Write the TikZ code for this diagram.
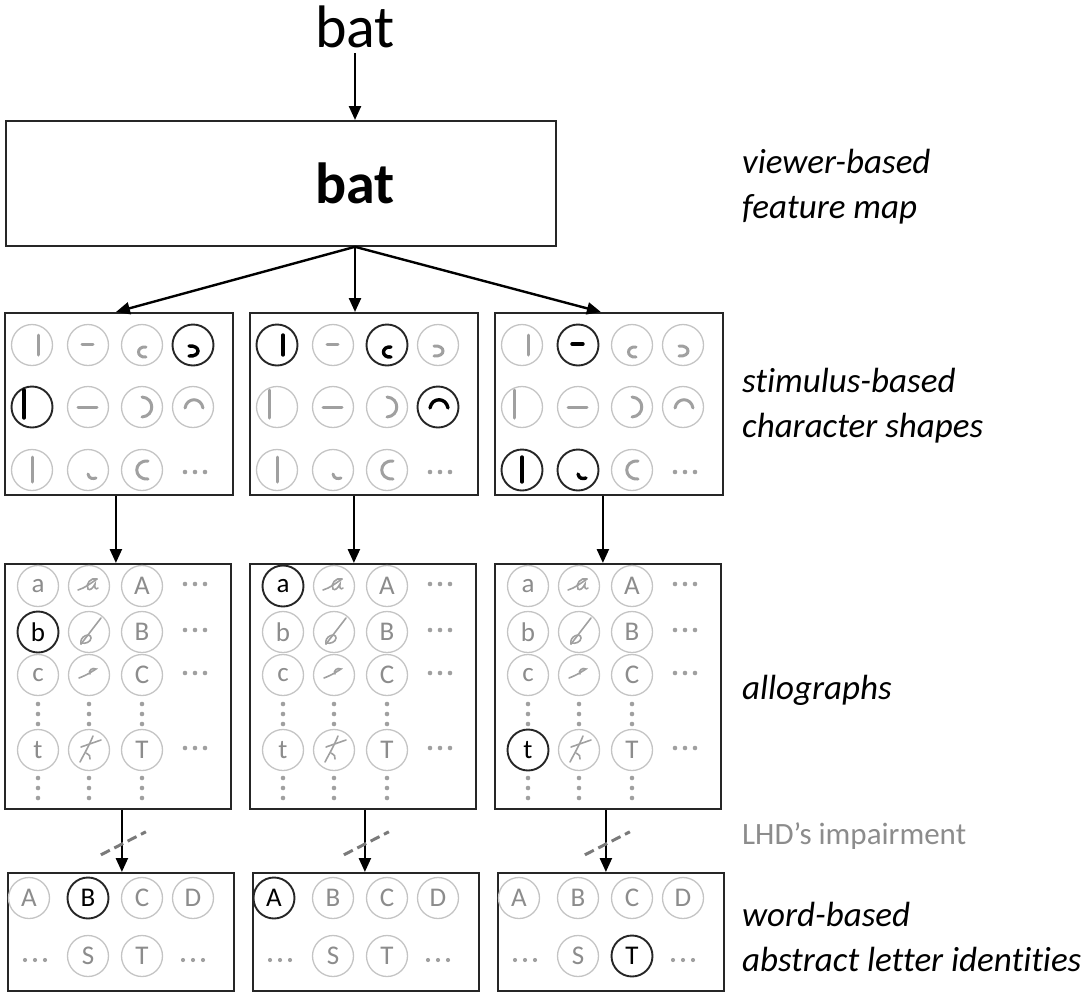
\documentclass[tikz,border=0pt]{standalone}
\usepackage{fontspec}
\setmainfont{Carlito}[Ligatures=NoCommon]
\usetikzlibrary{arrows.meta,calc}
\definecolor{cgray}{HTML}{C4C4C4}
\definecolor{ggray}{HTML}{A0A0A0}
\definecolor{lgray}{HTML}{8C8C8C}
\definecolor{dgray}{HTML}{7A7A7A}
\tikzset{
  box/.style={draw=black!85, line width=1.8pt, rectangle, inner sep=0pt, anchor=north west},
  circ/.style={circle, draw=cgray, line width=1.3pt, minimum size=41pt, inner sep=0pt, text=lgray, font=\fontsize{27}{30}\selectfont},
  hcirc/.style={circ, draw=black!85, line width=1.9pt, text=black},
  gl/.style={draw=ggray, line width=3pt, line cap=round},
  hgl/.style={draw=black, line width=3.4pt, line cap=round},
  cgl/.style={draw=ggray, line width=1.6pt, line cap=round},
  arr/.style={-{Triangle[length=14pt,width=12pt]}, line width=2.4pt},
  slash/.style={draw=dgray, line width=3pt, dash pattern=on 10pt off 5pt},
  lab/.style={anchor=west, align=left, inner sep=0pt, font=\fontsize{35}{45}\selectfont\itshape},
}
% shape glyphs (local coordinates, y downward)
\expandafter\def\csname sg11\endcsname#1{\draw[#1] (6,-10)--(6,10);}
\expandafter\def\csname sg12\endcsname#1{\draw[#1] (-6,-1)--(5,-1);}
\expandafter\def\csname sg13\endcsname#1{\draw[#1] (4,2) .. controls (-6,1) and (-6,13) .. (4,12);}
\expandafter\def\csname sg14\endcsname#1{\draw[#1] (-4,1) .. controls (8,0) and (8,12) .. (-4,11);}
\expandafter\def\csname sg21\endcsname#1{\draw[#1] (-8,-17)--(-8,11);}
\expandafter\def\csname sg22\endcsname#1{\draw[#1] (-10,0)--(9,0);}
\expandafter\def\csname sg23\endcsname#1{\draw[#1] (0,-10) .. controls (13,-9) and (13,9) .. (0,10);}
\expandafter\def\csname sg24\endcsname#1{\draw[#1] (-8,1) .. controls (-6,-10) and (8,-10) .. (10,1);}
\expandafter\def\csname sg31\endcsname#1{\draw[#1] (0,-13)--(0,12);}
\expandafter\def\csname sg32\endcsname#1{\draw[#1] (0,4) .. controls (1,9) and (5,9) .. (8,8);}
\expandafter\def\csname sg33\endcsname#1{\draw[#1] (6,-9) .. controls (-9,-10) and (-9,10) .. (6,9);}
% cursive glyphs
\expandafter\def\csname cg1\endcsname{\draw[cgl] (-11,4) .. controls (-4,2) and (2,-3) .. (8,-7);
  \draw[cgl] (8,-7) .. controls (2,-9) and (-4,-2) .. (-1,3) .. controls (1,5) and (4,2) .. (6,-2) .. controls (5,2) and (7,4) .. (9,2);}
\expandafter\def\csname cg2\endcsname{\draw[cgl] (-8,12) -- (12,-14);
  \draw[cgl] (-8,12) .. controls (-10,4) and (2,0) .. (2,6) .. controls (2,10) and (-4,12) .. (-7,11);}
\expandafter\def\csname cg3\endcsname{\draw[cgl] (-10,3) .. controls (-2,0) and (4,-4) .. (7,-6) .. controls (3,-8) and (-1,-4) .. (1,-1);}
\expandafter\def\csname cg4\endcsname{\draw[cgl] (-8,-3) -- (12,-10);
  \draw[cgl] (4,-14) .. controls (0,-4) and (-6,6) .. (-9,12);
  \draw[cgl] (-3,3) .. controls (0,5) and (2,6) .. (1,9);}
% highlights
\expandafter\def\csname hls114\endcsname{}
\expandafter\def\csname hls121\endcsname{}
\expandafter\def\csname hls211\endcsname{}
\expandafter\def\csname hls213\endcsname{}
\expandafter\def\csname hls224\endcsname{}
\expandafter\def\csname hls312\endcsname{}
\expandafter\def\csname hls331\endcsname{}
\expandafter\def\csname hls332\endcsname{}
\expandafter\def\csname hla12\endcsname{}
\expandafter\def\csname hla21\endcsname{}
\expandafter\def\csname hla34\endcsname{}
\expandafter\def\csname hlw1B\endcsname{}
\expandafter\def\csname hlw2A\endcsname{}
\expandafter\def\csname hlw3T\endcsname{}
\begin{document}
\begin{tikzpicture}[x=1pt,y=-1pt]
\useasboundingbox (0,0) rectangle (1088,994);
% top word
\node[inner sep=5pt, font=\fontsize{60}{64}\selectfont] (top) at (355,27) {bat};
% feature map
\node[box, minimum width=550pt, minimum height=125pt] (fm) at (5,120) {};
\node[inner sep=0pt, font=\fontsize{58}{60}\selectfont\bfseries] (fmtext) at (355,183) {bat};
\node[lab] (l1) at (742,187) {viewer-based\\feature map};
\draw[arr] (top.south) -- (top.south |- fm.north);
\coordinate (fo) at (top.south |- fm.south);
% shape boxes
\foreach \b/\L in {1/4,2/249,3/494}{
  \node[box, minimum width=228pt, minimum height=182pt] (s\b) at (\L,312) {};
  \foreach \r/\y in {1/345,2/407}{
    \foreach \c/\dx in {1/28,2/84,3/138,4/189}{
      \ifcsname hls\b\r\c\endcsname\def\cs{hcirc}\def\gs{hgl}\else\def\cs{circ}\def\gs{gl}\fi
      \node[\cs] (s\b-\r-\c) at (\L+\dx,\y) {};
      \begin{scope}[shift={(s\b-\r-\c.center)}]\csname sg\r\c\endcsname{\gs}\end{scope}
    }
  }
  \foreach \c/\dx in {1/28,2/84,3/138}{
    \ifcsname hls\b3\c\endcsname\def\cs{hcirc}\def\gs{hgl}\else\def\cs{circ}\def\gs{gl}\fi
    \node[\cs] (s\b-3-\c) at (\L+\dx,470) {};
    \begin{scope}[shift={(s\b-3-\c.center)}]\csname sg3\c\endcsname{\gs}\end{scope}
  }
  \foreach \dd in {-10,0,10}{\fill[ggray] (\L+191+\dd,472) circle (2.3pt);}
}
\node[lab] (l2) at (742,406) {stimulus-based\\character shapes};
\draw[arr] (fo) -- ([xshift=-3pt]s1.north);
\draw[arr] (fo) -- (fo |- s2.north);
\draw[arr] (fo) -- ([xshift=-8pt]s3.north);
% allograph boxes
\foreach \b/\L in {1/4,2/249,3/494}{
  \node[box, minimum width=226pt, minimum height=245pt] (a\b) at (\L,563) {};
  \foreach \r/\y/\lo/\up in {1/586/a/A,2/632/b/B,3/675/c/C,4/750/t/T}{
    \ifcsname hla\b\r\endcsname\def\cs{hcirc}\else\def\cs{circ}\fi
    \node[\cs] (a\b-\r-1) at (\L+34,\y) {\lo};
    \node[circ] (a\b-\r-2) at (\L+85,\y) {};
    \begin{scope}[shift={(a\b-\r-2.center)}]\csname cg\r\endcsname\end{scope}
    \node[circ] (a\b-\r-3) at (\L+138,\y) {\up};
    \foreach \dd in {-10,0,10}{\fill[ggray] (\L+191+\dd,\y-2) circle (2.3pt);}
  }
  \foreach \dx in {34,85,138}{
    \foreach \yy in {704,714,724,778,788,798}{\fill[ggray] (\L+\dx,\yy) circle (2.3pt);}
  }
}
\node[lab] (l3) at (742,690) {allographs};
\foreach \b/\sh in {1/-3,2/-10,3/-6}{
  \coordinate (p\b) at ([xshift=\sh pt]s\b.south);
  \draw[arr] (p\b) -- (p\b |- a\b.north);
}
% word boxes
\foreach \b/\L in {1/7,2/252,3/497}{
  \node[box, minimum width=226pt, minimum height=118pt] (w\b) at (\L,872) {};
  \foreach \t/\dx/\y in {A/22/898,B/81/898,C/135/898,D/186/898,S/81/956,T/135/956}{
    \ifcsname hlw\b\t\endcsname\def\cs{hcirc}\else\def\cs{circ}\fi
    \node[\cs] (w\b-\t) at (\L+\dx,\y) {\t};
  }
  \foreach \dd in {-10,0,10}{\fill[ggray] (\L+28+\dd,960) circle (2.1pt); \fill[ggray] (\L+186+\dd,960) circle (2.1pt);}
}
\foreach \b/\sh in {1/4,2/2,3/-2}{
  \coordinate (q\b) at ([xshift=\sh pt]a\b.south);
  \draw[arr] (q\b) -- (q\b |- w\b.north);
  \draw[slash] ($(q\b)+(-21,45)$) -- ($(q\b)+(24,22)$);
}
\node[anchor=west, inner sep=0pt, text=lgray, font=\fontsize{31}{35}\selectfont] (imp) at (742,836) {LHD’s impairment};
\node[lab] (l4) at (742,937) {word-based\\abstract letter identities};
\end{tikzpicture}
\end{document}
